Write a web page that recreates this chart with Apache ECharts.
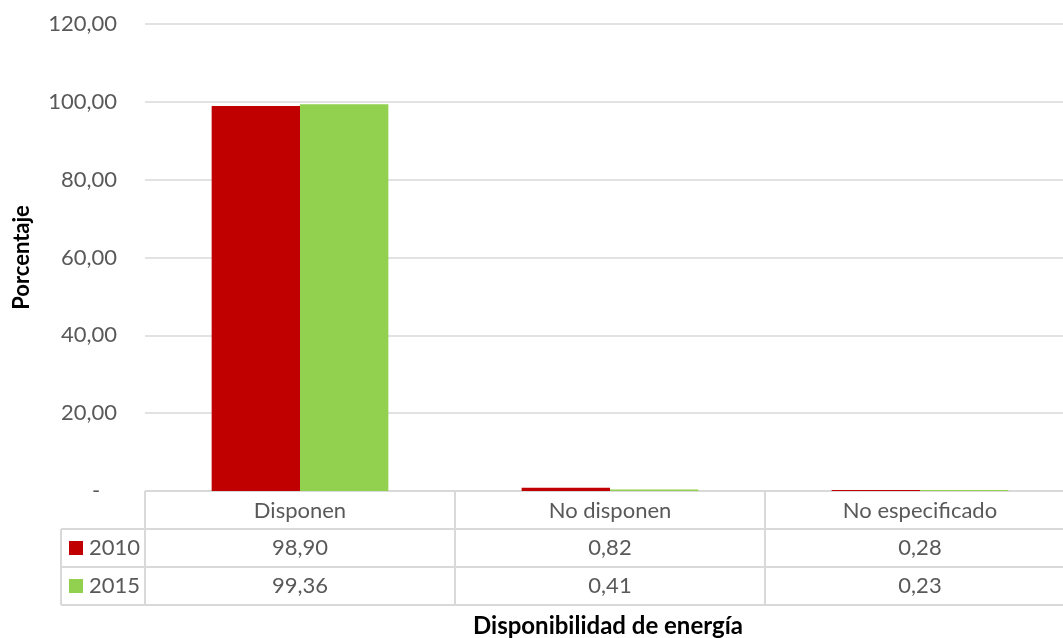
<!DOCTYPE html>
<html>
<head>
<meta charset="utf-8">
<script src="https://cdn.jsdelivr.net/npm/echarts@6/dist/echarts.min.js"></script>
<style>
html, body { margin: 0; padding: 0; background: #fff; }
#main { width: 1063px; height: 638px; }
</style>
</head>
<body>
<div id="main"></div>
<script>
var categories = ['Disponen', 'No disponen', 'No especificado'];
var years = ['2010', '2015'];
var values2010 = [98.90, 0.82, 0.28];
var values2015 = [99.36, 0.41, 0.23];
var yTicks = [0, 20, 40, 60, 80, 100, 120];
var colors = ['#C00000', '#92D050'];

var FONT = 'Lato';
var TXT = '#595959';
var LINE = '#D9D9D9';

function fmt(v) {
    return v.toFixed(2).replace('.', ',');
}

var chart = echarts.init(document.getElementById('main'));

var option = {
    animation: false,
    textStyle: { fontFamily: FONT },
    grid: { left: 145, width: 930, top: 24, bottom: 147, containLabel: false, outerBoundsMode: 'none' },
    xAxis: {
        type: 'category',
        data: categories,
        axisLine: { show: false },
        axisTick: { show: false },
        axisLabel: { color: TXT, fontSize: 22, fontFamily: FONT, margin: 9 },
        name: 'Disponibilidad de energía',
        nameLocation: 'middle',
        nameGap: 123,
        nameTextStyle: { color: '#000', fontWeight: 'bold', fontSize: 24, fontFamily: FONT, padding: [0, 0, 0, -4] }
    },
    yAxis: {
        type: 'value',
        min: yTicks[0],
        max: yTicks[yTicks.length - 1],
        interval: 20,
        axisLine: { show: false },
        axisTick: { show: false },
        splitLine: { lineStyle: { color: LINE, width: 1.5 } },
        axisLabel: {
            color: TXT, fontSize: 22, fontFamily: FONT, margin: 28,
            formatter: function (v) { return v === 0 ? '-   ' : fmt(v); }
        },
        name: 'Porcentaje',
        nameLocation: 'middle',
        nameGap: 112,
        nameTextStyle: { color: '#000', fontWeight: 'bold', fontSize: 22, fontFamily: FONT }
    },
    series: [
        { name: years[0], type: 'bar', data: values2010, itemStyle: { color: colors[0] }, barGap: '0%', barCategoryGap: '43%' },
        { name: years[1], type: 'bar', data: values2015, itemStyle: { color: colors[1] } }
    ]
};
chart.setOption(option);

// tabla de datos debajo del grafico
function buildTable() {
    var rows = [values2010, values2015];
    var y0 = chart.convertToPixel({ yAxisIndex: 0 }, 0);
    var rowH = 38;
    var c0 = chart.convertToPixel({ xAxisIndex: 0 }, categories[0]);
    var c1 = chart.convertToPixel({ xAxisIndex: 0 }, categories[1]);
    var band = c1 - c0;
    var left = c0 - band / 2;
    var right = 1063;
    var legendLeft = 61;
    var els = [];
    var ls = { stroke: LINE, lineWidth: 2 };

    els.push({ type: 'line', shape: { x1: left, y1: y0, x2: right, y2: y0 }, style: ls });
    for (var r = 1; r <= rows.length + 1; r++) {
        var yy = y0 + r * rowH;
        els.push({ type: 'line', shape: { x1: legendLeft, y1: yy, x2: right, y2: yy }, style: ls });
    }
    var yEnd = y0 + (rows.length + 1) * rowH;
    els.push({ type: 'line', shape: { x1: legendLeft, y1: y0 + rowH, x2: legendLeft, y2: yEnd }, style: ls });
    for (var c = 0; c <= categories.length; c++) {
        var xx = left + c * band;
        if (xx > right) continue;
        els.push({ type: 'line', shape: { x1: xx, y1: y0, x2: xx, y2: yEnd }, style: ls });
    }
    for (var i = 0; i < rows.length; i++) {
        var cy = y0 + (i + 1.5) * rowH;
        els.push({ type: 'rect', shape: { x: 69, y: cy - 7, width: 14, height: 14 }, style: { fill: colors[i] } });
        els.push({ type: 'text', x: 89, y: cy, style: { text: years[i], fill: TXT, font: '22px ' + FONT, textAlign: 'left', textVerticalAlign: 'middle' } });
        for (var j = 0; j < categories.length; j++) {
            var cx = chart.convertToPixel({ xAxisIndex: 0 }, categories[j]);
            els.push({ type: 'text', x: cx, y: cy, style: { text: fmt(rows[i][j]), fill: TXT, font: '22px ' + FONT, textAlign: 'center', textVerticalAlign: 'middle' } });
        }
    }
    chart.setOption({ graphic: { elements: els } });
}
buildTable();
</script>
</body>
</html>
